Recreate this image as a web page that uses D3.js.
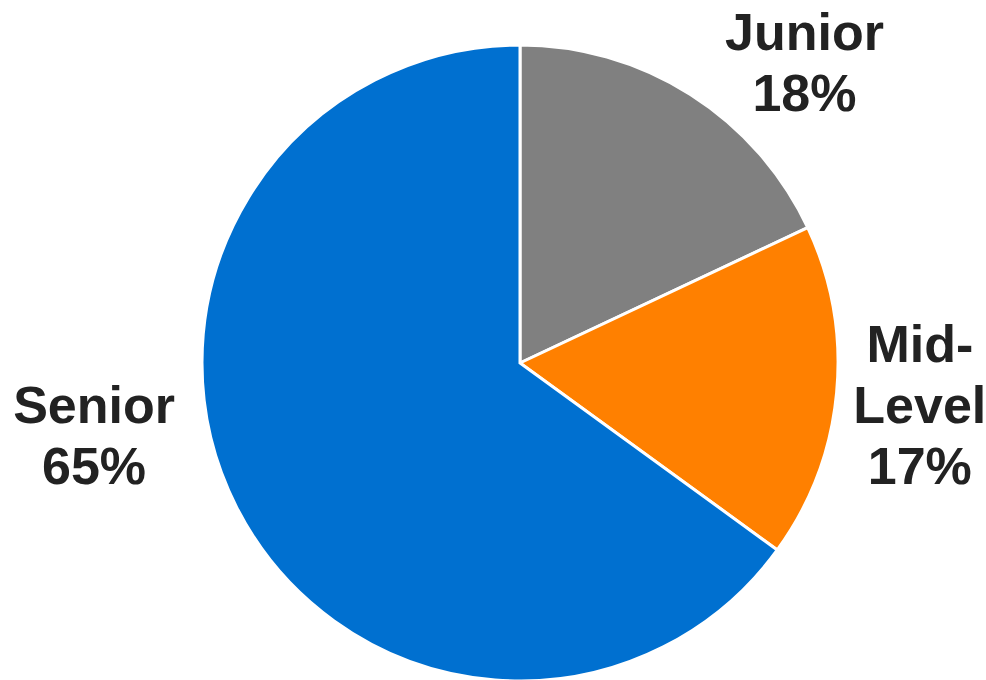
<!DOCTYPE html>
<html>
<head>
<meta charset="utf-8">
<script src="https://cdn.jsdelivr.net/npm/d3@7"></script>
<style>
  html, body { margin: 0; padding: 0; background: #fff; }
  svg { display: block; }
</style>
</head>
<body>
<div id="chart"></div>
<script>
// data
var categories = ["Junior", "Mid-Level", "Senior"];
var shares = [18, 17, 65];
var labelLines = [["Junior", "18%"], ["Mid-", "Level", "17%"], ["Senior", "65%"]];
var colors = ["#808080", "#FF8000", "#0070D0"];

var w = 986, h = 680,
    cx = 520, cy = 363,
    r = 318;

// label placement (polar, around pie center): degrees clockwise from top, distance
var labelAngle = [43.4, 96, 260.4],
    labelDist = [414, 402, 432],
    lineH = 61;

var svg = d3.select("#chart").append("svg")
    .attr("width", w)
    .attr("height", h);

var pie = d3.pie().sort(null).value(function (d) { return d; });
var arc = d3.arc().innerRadius(0).outerRadius(r);

var g = svg.append("g").attr("transform", "translate(" + cx + "," + cy + ")");

g.selectAll("path")
    .data(pie(shares))
    .enter()
    .append("path")
    .attr("d", arc)
    .attr("fill", function (d, i) { return colors[i]; })
    .attr("stroke", "#fff")
    .attr("stroke-width", 3)
    .attr("stroke-linejoin", "miter");

var labels = g.selectAll(".lbl")
    .data(categories)
    .enter()
    .append("text")
    .attr("class", "lbl")
    .attr("text-anchor", "middle")
    .attr("font-family", "Liberation Sans, Arial, sans-serif")
    .attr("font-weight", "bold")
    .attr("font-size", "52px")
    .attr("fill", "#222")
    .attr("transform", function (d, i) {
        var a = labelAngle[i] * Math.PI / 180;
        var x = Math.sin(a) * labelDist[i],
            y = -Math.cos(a) * labelDist[i];
        var n = labelLines[i].length;
        y = y - (n - 1) * lineH / 2 + 18;
        return "translate(" + x + "," + y + ")";
    });

labels.each(function (d, i) {
    var t = d3.select(this);
    labelLines[i].forEach(function (s, k) {
        t.append("tspan").attr("x", 0).attr("y", k * lineH).text(s);
    });
});
</script>
</body>
</html>
